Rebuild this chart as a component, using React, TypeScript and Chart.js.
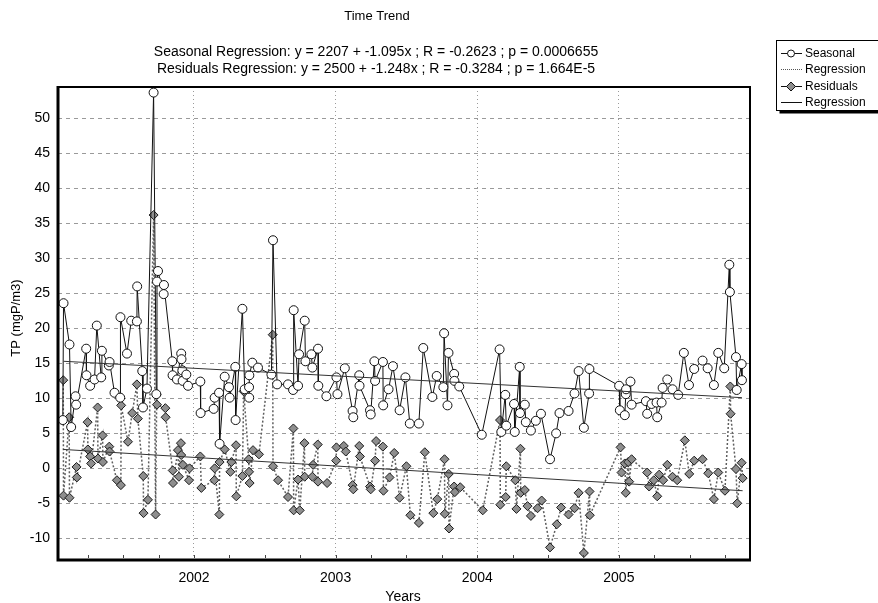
import { useEffect, useRef } from "react";
import { Chart, registerables } from "chart.js";

Chart.register(...registerables);

const FONT = '"Liberation Sans", Arial, sans-serif';

const TITLE = "Time Trend";
const SUBTITLES = [
  "Seasonal Regression: y = 2207 + -1.095x ; R = -0.2623 ; p = 0.0006655",
  "Residuals Regression: y = 2500 + -1.248x ; R = -0.3284 ; p = 1.664E-5",
];
const X_TITLE = "Years";
const Y_TITLE = "TP (mgP/m3)";
const LEGEND_LABELS = ["Seasonal", "Regression", "Residuals", "Regression"];

const X_TICKS = [2002, 2003, 2004, 2005];
const Y_TICKS = [-10, -5, 0, 5, 10, 15, 20, 25, 30, 35, 40, 45, 50];

const seasonalX = [
  2001.074, 2001.079, 2001.121, 2001.133, 2001.164, 2001.168, 2001.239, 2001.241, 2001.267, 2001.298,
  2001.314, 2001.345, 2001.35, 2001.399, 2001.404, 2001.439, 2001.479, 2001.481, 2001.527, 2001.557,
  2001.597, 2001.599, 2001.635, 2001.64, 2001.668, 2001.715, 2001.734, 2001.739, 2001.746, 2001.786,
  2001.788, 2001.847, 2001.849, 2001.88, 2001.91, 2001.912, 2001.918, 2001.92, 2001.946, 2001.958,
  2002.045, 2002.047, 2002.139, 2002.146, 2002.177, 2002.181, 2002.217, 2002.247, 2002.252, 2002.292,
  2002.294, 2002.342, 2002.358, 2002.389, 2002.39, 2002.391, 2002.412, 2002.452, 2002.547, 2002.558,
  2002.587, 2002.664, 2002.7, 2002.704, 2002.735, 2002.742, 2002.782, 2002.787, 2002.829, 2002.836,
  2002.876, 2002.878, 2002.935, 2003.006, 2003.013, 2003.065, 2003.12, 2003.125, 2003.167, 2003.169,
  2003.243, 2003.248, 2003.274, 2003.279, 2003.334, 2003.336, 2003.374, 2003.405, 2003.452, 2003.493,
  2003.524, 2003.588, 2003.619, 2003.683, 2003.714, 2003.761, 2003.766, 2003.79, 2003.797, 2003.837,
  2003.839, 2003.873, 2004.032, 2004.158, 2004.17, 2004.198, 2004.205, 2004.26, 2004.265, 2004.3,
  2004.302, 2004.336, 2004.343, 2004.379, 2004.414, 2004.45, 2004.514, 2004.557, 2004.581, 2004.645,
  2004.687, 2004.716, 2004.753, 2004.79, 2004.792, 2005.002, 2005.007, 2005.042, 2005.049, 2005.051,
  2005.082, 2005.09, 2005.191, 2005.2, 2005.231, 2005.266, 2005.271, 2005.302, 2005.309, 2005.342,
  2005.379, 2005.419, 2005.459, 2005.495, 2005.532, 2005.591, 2005.627, 2005.671, 2005.702, 2005.744,
  2005.78, 2005.784, 2005.827, 2005.832, 2005.867, 2005.869,
];
const seasonalY = [
  6.9, 23.6, 17.7, 5.9, 10.3, 9.1, 17.1, 13.3, 11.8, 12.7,
  20.4, 13.0, 16.8, 14.7, 15.2, 10.8, 10.1, 21.6, 16.4, 21.1,
  21.0, 26.0, 13.9, 8.7, 11.4, 53.7, 10.6, 26.7, 28.2, 24.9,
  26.2, 15.3, 13.3, 12.7, 16.4, 15.6, 14.0, 12.5, 13.4, 11.8,
  12.4, 7.9, 8.5, 10.1, 10.8, 3.5, 13.1, 11.6, 10.1, 14.5,
  6.9, 22.8, 11.3, 11.6, 10.1, 13.3, 15.1, 14.4, 13.4, 32.6,
  12.0, 12.0, 11.2, 22.6, 11.8, 16.3, 21.1, 15.3, 16.3, 14.4,
  17.1, 11.8, 10.3, 13.0, 10.6, 14.3, 8.2, 7.3, 13.3, 11.8,
  8.3, 7.7, 15.3, 12.5, 15.2, 9.0, 11.3, 14.6, 8.3, 13.0,
  6.4, 6.4, 17.2, 10.2, 13.2, 11.6, 19.3, 9.0, 16.5, 13.5,
  12.5, 11.7, 4.8, 17.0, 5.2, 10.5, 6.1, 9.2, 5.2, 14.5,
  7.9, 9.1, 6.6, 5.4, 6.8, 7.8, 1.3, 5.0, 7.9, 8.2,
  10.7, 13.9, 5.8, 10.7, 14.2, 11.8, 8.3, 7.6, 10.6, 11.3,
  12.4, 9.1, 9.6, 7.8, 9.2, 9.4, 7.3, 9.4, 11.5, 12.7,
  11.3, 10.5, 16.5, 11.9, 14.2, 15.4, 14.3, 11.9, 16.5, 14.3,
  29.1, 25.2, 15.9, 11.2, 14.9, 12.6,
];

const residualX = [
  2001.077, 2001.079, 2001.119, 2001.121, 2001.171, 2001.173, 2001.249, 2001.251, 2001.267, 2001.274,
  2001.32, 2001.322, 2001.355, 2001.357, 2001.402, 2001.404, 2001.456, 2001.484, 2001.486, 2001.534,
  2001.564, 2001.597, 2001.604, 2001.642, 2001.644, 2001.675, 2001.715, 2001.729, 2001.737, 2001.739,
  2001.798, 2001.8, 2001.85, 2001.852, 2001.887, 2001.894, 2001.908, 2001.91, 2001.922, 2001.965,
  2001.969, 2002.045, 2002.052, 2002.144, 2002.146, 2002.179, 2002.181, 2002.217, 2002.257, 2002.264,
  2002.297, 2002.299, 2002.342, 2002.351, 2002.387, 2002.389, 2002.393, 2002.417, 2002.459, 2002.556,
  2002.558, 2002.594, 2002.664, 2002.702, 2002.704, 2002.735, 2002.747, 2002.78, 2002.782, 2002.836,
  2002.841, 2002.874, 2002.876, 2002.94, 2003.004, 2003.006, 2003.058, 2003.072, 2003.12, 2003.125,
  2003.167, 2003.172, 2003.243, 2003.248, 2003.279, 2003.286, 2003.334, 2003.338, 2003.381, 2003.414,
  2003.452, 2003.5, 2003.528, 2003.588, 2003.63, 2003.69, 2003.718, 2003.769, 2003.771, 2003.799,
  2003.801, 2003.837, 2003.842, 2003.88, 2004.039, 2004.161, 2004.163, 2004.201, 2004.205, 2004.269,
  2004.277, 2004.305, 2004.307, 2004.336, 2004.355, 2004.379, 2004.426, 2004.455, 2004.514, 2004.562,
  2004.592, 2004.645, 2004.687, 2004.716, 2004.753, 2004.793, 2004.795, 2005.012, 2005.019, 2005.042,
  2005.049, 2005.066, 2005.073, 2005.09, 2005.2, 2005.214, 2005.247, 2005.271, 2005.285, 2005.313,
  2005.342, 2005.379, 2005.412, 2005.466, 2005.497, 2005.532, 2005.591, 2005.631, 2005.671, 2005.702,
  2005.749, 2005.787, 2005.789, 2005.827, 2005.836, 2005.867, 2005.874,
];
const residualY = [
  12.6, -3.9, 7.3, -4.2, 0.2, -1.3, 6.6, 2.7, 1.7, 0.7,
  8.7, 1.4, 4.7, 0.9, 3.1, 2.4, -1.7, -2.4, 9.0, 3.8,
  7.9, 12.0, 7.1, -1.1, -6.4, -4.5, 36.2, -6.6, 10.5, 9.1,
  8.6, 7.3, -0.3, -2.1, 2.6, -1.2, 3.6, 1.9, 0.5, -1.7,
  0.0, 1.7, -2.8, -1.7, 0.0, -6.6, 0.9, 2.7, -0.5, 0.9,
  3.3, -4.0, -1.1, 11.0, 1.3, -0.5, -2.1, 2.6, 2.0, 19.1,
  0.3, -1.7, -4.1, 5.7, -6.0, -1.6, -6.0, 3.6, -1.2, -1.2,
  0.5, 3.4, -1.9, -2.1, 1.1, 3.0, 3.2, 2.4, -2.4, -3.0,
  3.2, 1.7, -2.6, -3.0, 1.1, 3.9, 3.1, -3.2, -1.3, 2.2,
  -4.2, 0.3, -6.7, -7.8, 2.3, -6.4, -4.4, 1.3, -6.5, -0.8,
  -8.6, -2.6, -3.4, -2.7, -6.0, 6.9, -5.2, -4.1, 0.3, -1.7,
  -5.8, 2.8, -3.5, -3.1, -5.4, -6.8, -5.7, -4.6, -11.3, -8.0,
  -5.6, -6.6, -5.7, -3.5, -12.1, -3.3, -6.7, 3.0, -0.6, 0.7,
  -3.5, 0.9, -1.9, 1.3, -0.6, -2.6, -1.7, -4.0, -0.9, -1.7,
  0.5, -1.2, -1.7, 4.0, -0.8, 1.1, 1.3, -0.7, -4.4, -0.6,
  -3.2, 11.7, 7.8, -0.1, -5.0, 0.8, -1.4,
];

const seasonalRegX = [2001.079, 2005.869];
const seasonalRegY = [15.3, 10.1];
const residualRegX = [2001.077, 2005.874];
const residualRegY = [2.7, -3.2];

const X_MIN = 2001.04;
const X_MAX = 2005.926;
const Y_MIN = -13.1;
const Y_MAX = 54.5;

const toPoints = (xs: number[], ys: number[]) => xs.map((x, i) => ({ x, y: ys[i] }));

const SEASONAL_STYLE = { line: "#111", fill: "#ffffff" };
const RESID_STYLE = { line: "#5e5e5e", fill: "#8e8e8e", edge: "#1a1a1a" };

const decorPlugin = {
  id: "decor",
  afterDraw(chart: any) {
    const ctx = chart.ctx as CanvasRenderingContext2D;
    const a = chart.chartArea;
    ctx.save();
    // frame
    ctx.strokeStyle = "#000";
    ctx.lineWidth = 2;
    ctx.beginPath();
    ctx.moveTo(a.left, a.top);
    ctx.lineTo(a.right, a.top);
    ctx.lineTo(a.right, a.bottom);
    ctx.stroke();
    ctx.lineWidth = 3;
    ctx.beginPath();
    ctx.moveTo(a.left, a.top - 1);
    ctx.lineTo(a.left, a.bottom);
    ctx.lineTo(a.right + 1, a.bottom);
    ctx.stroke();

    // minor x ticks (quarterly)
    const xs = chart.scales.x;
    ctx.lineWidth = 1;
    ctx.strokeStyle = "#444";
    for (let q = 2001.25; q < X_MAX; q += 0.25) {
      const px = Math.round(xs.getPixelForValue(q)) + 0.5;
      ctx.beginPath();
      ctx.moveTo(px, a.bottom - 2);
      ctx.lineTo(px, a.bottom - 5);
      ctx.stroke();
    }

    // titles
    ctx.fillStyle = "#000";
    ctx.textAlign = "center";
    ctx.textBaseline = "middle";
    ctx.font = `13px ${FONT}`;
    ctx.fillText(TITLE, 377, 16);
    ctx.font = `14px ${FONT}`;
    ctx.fillText(SUBTITLES[0], 376, 52);
    ctx.fillText(SUBTITLES[1], 376, 69);

    // axis titles
    ctx.fillText(X_TITLE, 403, 597);
    ctx.font = `13px ${FONT}`;
    ctx.save();
    ctx.translate(16, 318);
    ctx.rotate(-Math.PI / 2);
    ctx.fillText(Y_TITLE, 0, 0);
    ctx.restore();

    // legend
    const bx = 776.5;
    const by = 40.5;
    const bw = 120;
    const bh = 70;
    ctx.fillStyle = "#fff";
    ctx.fillRect(bx, by, bw, bh);
    ctx.strokeStyle = "#000";
    ctx.lineWidth = 1;
    ctx.strokeRect(bx, by, bw, bh);
    ctx.fillStyle = "#000";
    ctx.fillRect(bx + 3, by + bh, bw, 3);

    const rows = [53, 69, 86, 102];
    ctx.font = `12px ${FONT}`;
    ctx.textAlign = "left";
    rows.forEach((ry, i) => {
      ctx.save();
      ctx.lineWidth = 1;
      if (i === 1) {
        ctx.strokeStyle = "#555";
        ctx.setLineDash([1, 1]);
      } else {
        ctx.strokeStyle = "#111";
      }
      ctx.beginPath();
      ctx.moveTo(781, ry + 0.5);
      ctx.lineTo(802, ry + 0.5);
      ctx.stroke();
      ctx.restore();
      if (i === 0) {
        ctx.beginPath();
        ctx.arc(791, ry + 0.5, 3.5, 0, Math.PI * 2);
        ctx.fillStyle = SEASONAL_STYLE.fill;
        ctx.fill();
        ctx.strokeStyle = "#111";
        ctx.stroke();
      } else if (i === 2) {
        ctx.beginPath();
        ctx.moveTo(791, ry - 4);
        ctx.lineTo(795.5, ry + 0.5);
        ctx.lineTo(791, ry + 5);
        ctx.lineTo(786.5, ry + 0.5);
        ctx.closePath();
        ctx.fillStyle = RESID_STYLE.fill;
        ctx.fill();
        ctx.strokeStyle = "#111";
        ctx.stroke();
      }
      ctx.fillStyle = "#000";
      ctx.fillText(LEGEND_LABELS[i], 805, ry + 1);
    });
    ctx.restore();
  },
};

export default function App() {
  const canvasRef = useRef<HTMLCanvasElement | null>(null);

  useEffect(() => {
    if (!canvasRef.current) return;
    const chart = new Chart(canvasRef.current, {
      type: "scatter",
      data: {
        datasets: [
          {
            label: LEGEND_LABELS[0],
            data: toPoints(seasonalX, seasonalY),
            showLine: true,
            borderColor: SEASONAL_STYLE.line,
            borderWidth: 1,
            pointStyle: "circle",
            pointRadius: 4.5,
            pointBackgroundColor: SEASONAL_STYLE.fill,
            pointBorderColor: "#111",
            pointBorderWidth: 1,
            order: 1,
          },
          {
            label: LEGEND_LABELS[1],
            data: toPoints(seasonalRegX, seasonalRegY),
            showLine: true,
            borderColor: "#333",
            borderWidth: 1,
            pointRadius: 0,
            order: 0,
          },
          {
            label: LEGEND_LABELS[2],
            data: toPoints(residualX, residualY),
            showLine: true,
            borderColor: RESID_STYLE.line,
            borderWidth: 1.5,
            borderDash: [2, 2],
            pointStyle: "rectRot",
            pointRadius: 4.5,
            pointBackgroundColor: RESID_STYLE.fill,
            pointBorderColor: RESID_STYLE.edge,
            pointBorderWidth: 1,
            order: 2,
          },
          {
            label: LEGEND_LABELS[3],
            data: toPoints(residualRegX, residualRegY),
            showLine: true,
            borderColor: "#333",
            borderWidth: 1,
            pointRadius: 0,
            order: 0,
          },
        ],
      },
      options: {
        responsive: false,
        animation: false,
        devicePixelRatio: 1,
        layout: { padding: { top: 87, right: 128, left: 0, bottom: 0 } },
        plugins: {
          legend: { display: false },
          tooltip: { enabled: false },
          title: { display: false },
        },
        scales: {
          x: {
            type: "linear",
            min: X_MIN,
            max: X_MAX,
            afterBuildTicks: (s: any) => {
              s.ticks = X_TICKS.map((v) => ({ value: v }));
            },
            afterFit: (s: any) => {
              s.height = 43;
            },
            ticks: {
              font: { family: FONT, size: 14 },
              color: "#000",
              padding: 10,
              maxRotation: 0,
              autoSkip: false,
              callback: (v: any) => String(v),
            },
            grid: { color: "#9a9a9a", drawTicks: false, lineWidth: 1 },
            border: { display: false, dash: [1, 3] },
          },
          y: {
            type: "linear",
            min: Y_MIN,
            max: Y_MAX,
            afterBuildTicks: (s: any) => {
              s.ticks = Y_TICKS.map((v) => ({ value: v }));
            },
            afterFit: (s: any) => {
              s.width = 58;
            },
            ticks: {
              font: { family: FONT, size: 14 },
              color: "#000",
              padding: 8,
              autoSkip: false,
              callback: (v: any) => String(v),
            },
            grid: { color: "#9a9a9a", drawTicks: false, lineWidth: 1 },
            border: { display: false, dash: [4, 4] },
          },
        },
      },
      plugins: [decorPlugin],
    });
    return () => chart.destroy();
  }, []);

  return (
    <div style={{ position: "absolute", left: 0, top: 0, width: 878, height: 603, background: "#fff" }}>
      <canvas ref={canvasRef} width={878} height={603} style={{ display: "block" }} />
    </div>
  );
}
